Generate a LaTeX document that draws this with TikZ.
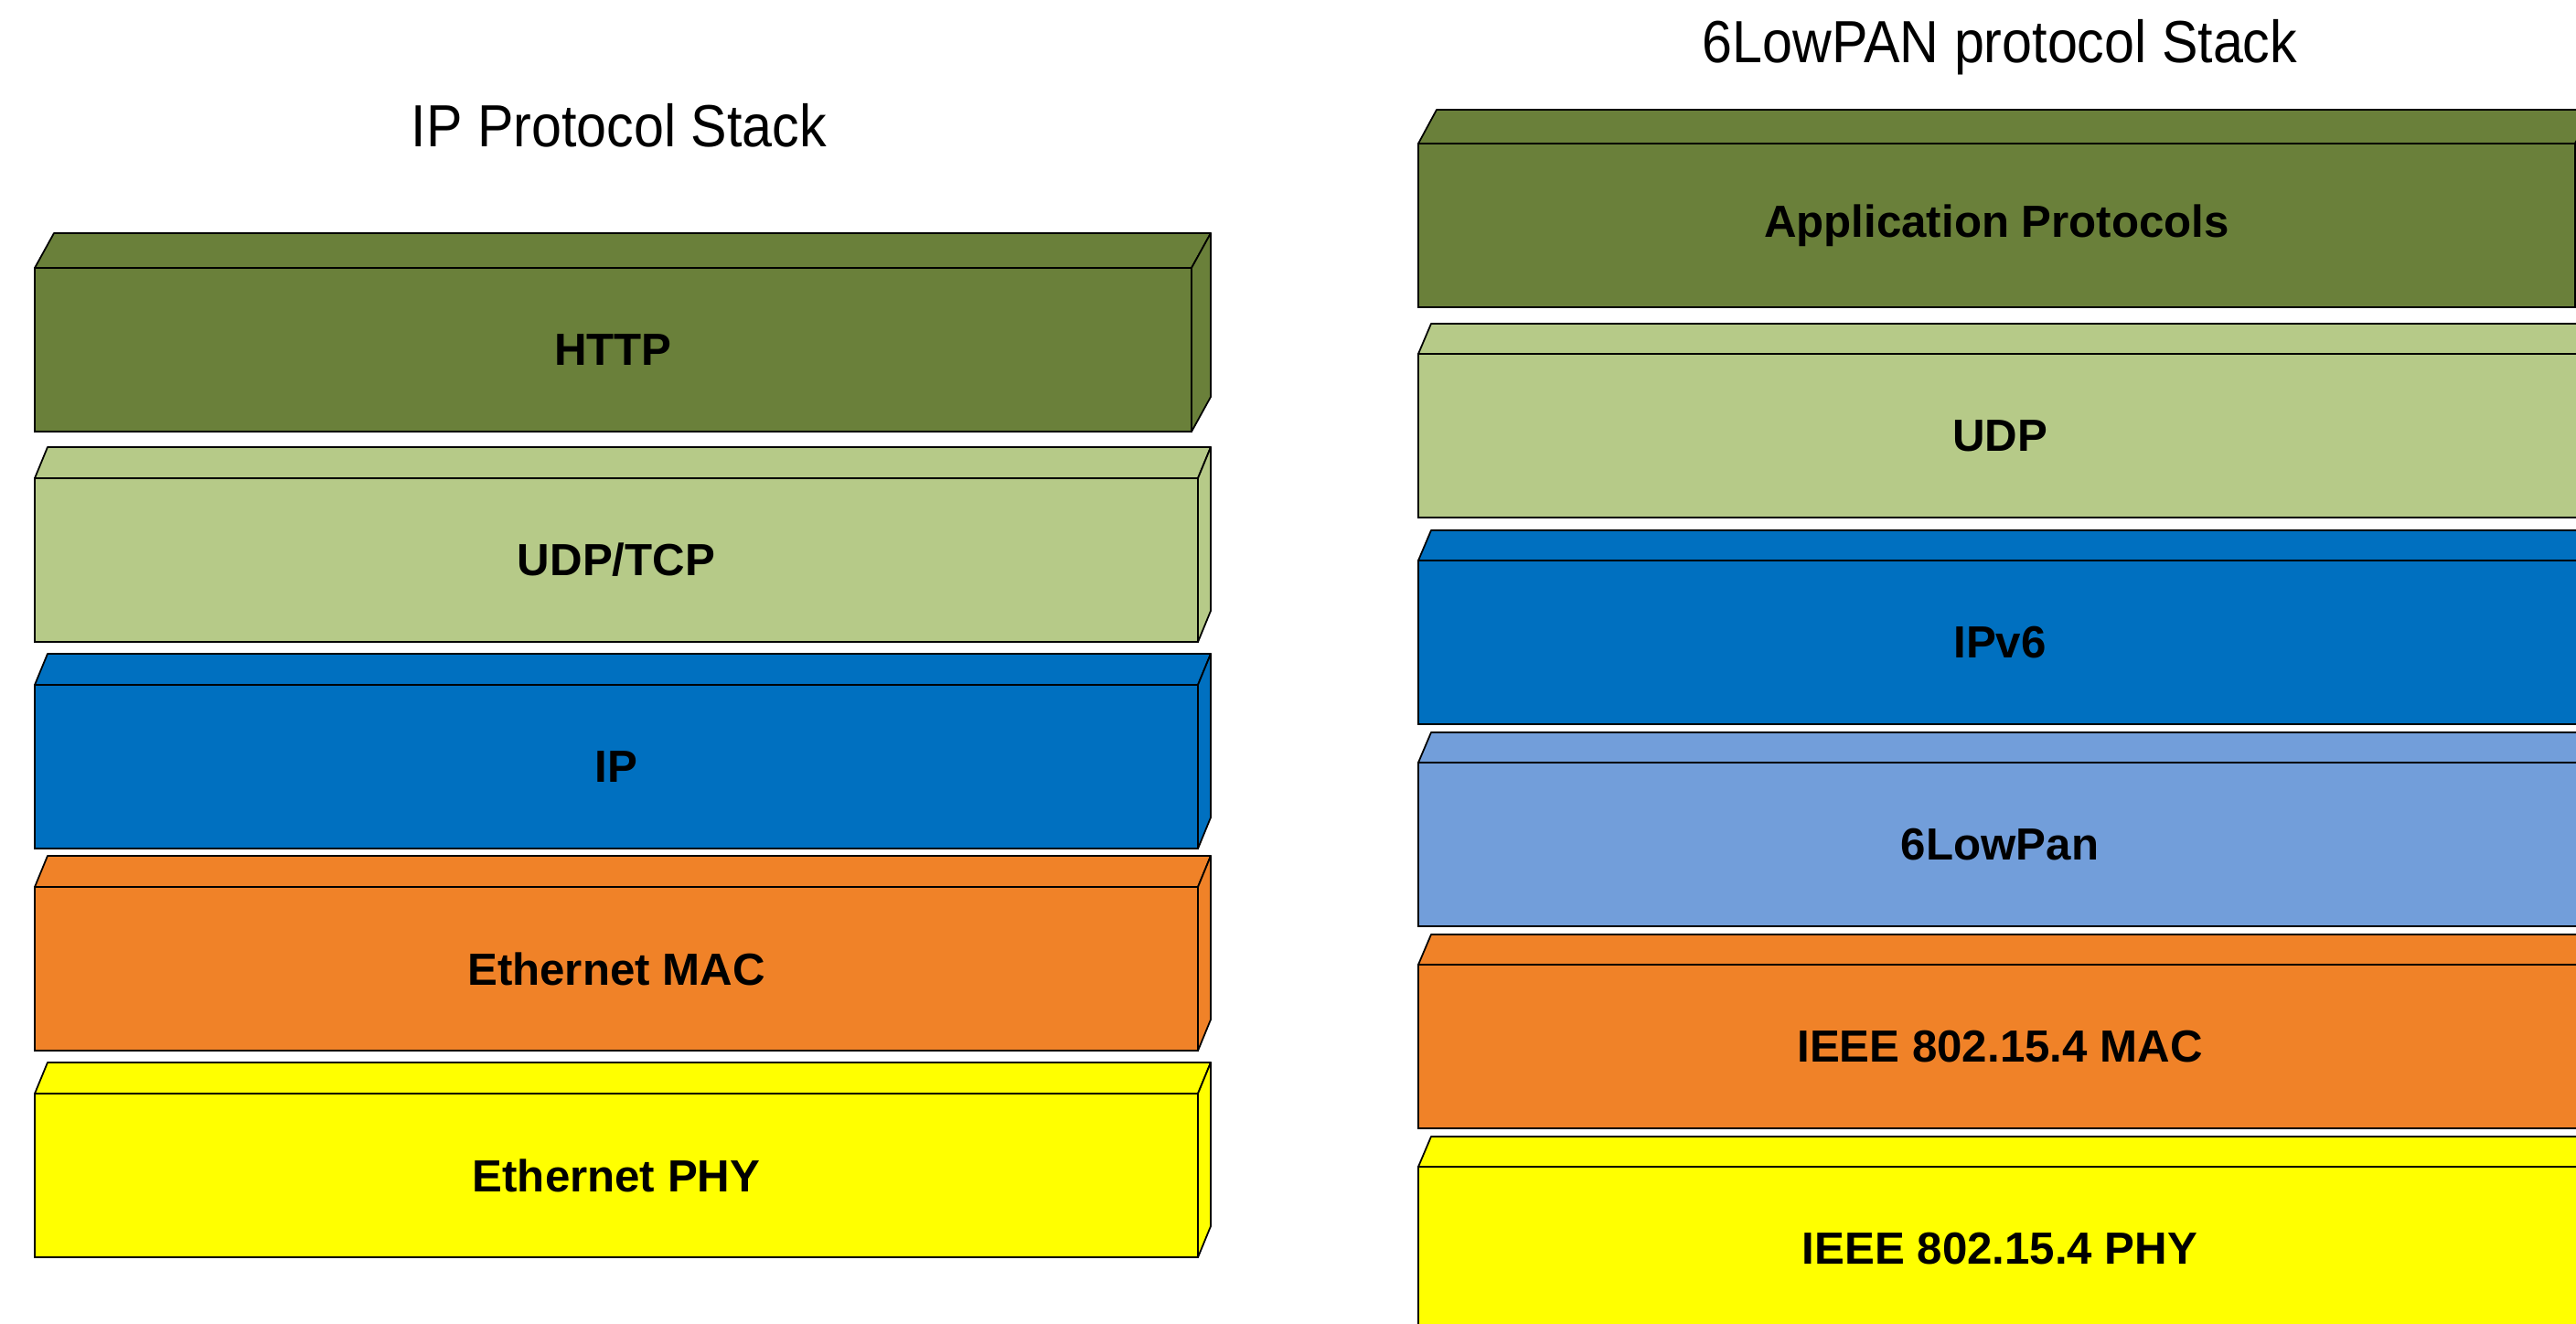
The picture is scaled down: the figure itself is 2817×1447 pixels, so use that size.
\documentclass[tikz,border=0pt]{standalone}
\usepackage{fontspec}
\setsansfont{Liberation Sans}
\usetikzlibrary{positioning}
\definecolor{LayerApp}{HTML}{6A803A}
\definecolor{LayerTrans}{HTML}{B6CA88}
\definecolor{LayerNet}{HTML}{0070C0}
\definecolor{LayerAdapt}{HTML}{729EDA}
\definecolor{LayerMac}{HTML}{F08228}
\definecolor{LayerPhy}{HTML}{FFFF00}
\tikzset{
  stack/.style={font=\sffamily,x=0.01cm,y=-0.01cm,line width=0.5pt},
  layer/.style={draw=black,anchor=north west,inner sep=0pt,outer sep=0pt,
    minimum height=1.79cm,font=\sffamily\bfseries\fontsize{14}{17}\selectfont},
  face/.style={draw=black,line join=round},
  stacktitle/.style={anchor=base,font=\sffamily\fontsize{18.5}{22}\selectfont},
}

\begin{document}
\begin{tikzpicture}[stack]
  \useasboundingbox (0,0) rectangle (2817,1447);
  \clip (0,0) rectangle (2817,1447);

  % titles
  \node[stacktitle] (iptitle) at (677,160) {\scalebox{.91}[1]{IP Protocol Stack}};
  \node[stacktitle] (lowpantitle) at (2187,68) {\scalebox{.91}[1]{6LowPAN protocol Stack}};

  % both stacks: name/left/top/depth x/depth y/width/colour/label
  \foreach \name/\lx/\ytop/\dx/\dy/\lw/\col/\txt in {
      http/38/293/21/38/1265/LayerApp/HTTP,
      udptcp/38/523/14/34/1272/LayerTrans/{UDP/TCP},
      ip/38/749/14/34/1272/LayerNet/IP,
      ethmac/38/970/14/34/1272/LayerMac/Ethernet MAC,
      ethphy/38/1196/14/34/1272/LayerPhy/Ethernet PHY,
      app/1551/157/20/37/1265/LayerApp/Application Protocols,
      udp/1551/387/14/33/1272/LayerTrans/UDP,
      ipv6/1551/613/14/33/1272/LayerNet/IPv6,
      lowpan/1551/834/14/33/1272/LayerAdapt/6LowPan,
      ieeemac/1551/1055/14/33/1272/LayerMac/IEEE 802.15.4 MAC,
      ieeephy/1551/1276/14/33/1272/LayerPhy/IEEE 802.15.4 PHY} {
    \node[layer,fill=\col,minimum width=\lw*0.01cm] (\name) at (\lx,\ytop) {\txt};
    \draw[face,fill=\col] (\name.north west) -- ++(\dx,-\dy) -- ++(\lw,0)
      -- (\name.north east) -- cycle;
    \draw[face,fill=\col] (\name.north east) -- ++(\dx,-\dy) -- ++(0,179)
      -- (\name.south east) -- cycle;
  }
\end{tikzpicture}
\end{document}
